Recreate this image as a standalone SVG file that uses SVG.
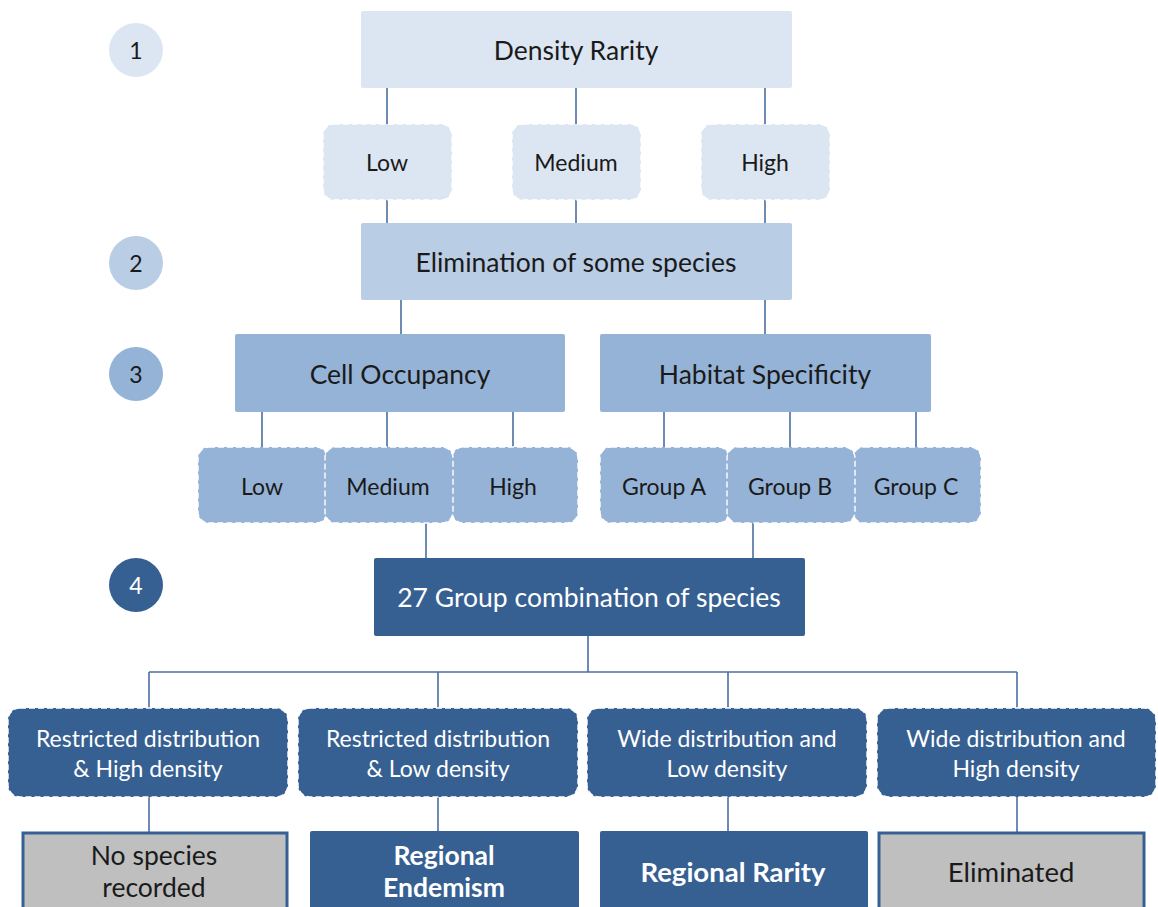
<svg xmlns="http://www.w3.org/2000/svg" width="1158" height="907" viewBox="0 0 1158 907">
<defs>
<style>
text{font-family:Lato,"Open Sans","Liberation Sans",sans-serif;text-anchor:middle;dominant-baseline:central}
.l1{fill:#dce6f2}.l2{fill:#b9cde5}.l3{fill:#95b3d7}.l4{fill:#376092}
.dash{stroke:#ffffff;stroke-width:1.4;stroke-dasharray:6 3}
.t{fill:#1a1a1a}.w{fill:#ffffff}
.big{font-size:26.5px}.mid{font-size:23px}.sm{font-size:23px}.num{font-size:23px}.fn{font-size:27.5px}
.b{font-weight:bold}
.conn line{stroke:#4a6fa0;stroke-width:1.6;fill:none}
.fin{stroke:#376092;stroke-width:3}
</style>
</defs>
<g class="conn">
<line x1="387" y1="88" x2="387" y2="124"/>
<line x1="576" y1="88" x2="576" y2="124"/>
<line x1="765" y1="88" x2="765" y2="124"/>
<line x1="387" y1="200" x2="387" y2="223"/>
<line x1="576" y1="200" x2="576" y2="223"/>
<line x1="765" y1="200" x2="765" y2="223"/>
<line x1="401" y1="300" x2="401" y2="334"/>
<line x1="765" y1="300" x2="765" y2="334"/>
<line x1="262" y1="412" x2="262" y2="447"/>
<line x1="387" y1="412" x2="387" y2="447"/>
<line x1="513" y1="412" x2="513" y2="447"/>
<line x1="664" y1="412" x2="664" y2="447"/>
<line x1="790" y1="412" x2="790" y2="447"/>
<line x1="916" y1="412" x2="916" y2="447"/>
<line x1="426" y1="523" x2="426" y2="558"/>
<line x1="753" y1="523" x2="753" y2="558"/>
<line x1="588" y1="636" x2="588" y2="672"/>
<line x1="149" y1="672" x2="1017" y2="672"/>
<line x1="149" y1="672" x2="149" y2="708"/>
<line x1="438" y1="672" x2="438" y2="708"/>
<line x1="728" y1="672" x2="728" y2="708"/>
<line x1="1017" y1="672" x2="1017" y2="708"/>
<line x1="149" y1="797" x2="149" y2="832"/>
<line x1="438" y1="797" x2="438" y2="832"/>
<line x1="728" y1="797" x2="728" y2="832"/>
<line x1="1017" y1="797" x2="1017" y2="832"/>
</g>
<g id="step1"><circle class="l1" cx="136" cy="50" r="27"/><text class="t num" x="136" y="50">1</text></g>
<g id="step2"><circle class="l2" cx="136" cy="263" r="27"/><text class="t num" x="136" y="263">2</text></g>
<g id="step3"><circle class="l3" cx="136" cy="374" r="27"/><text class="t num" x="136" y="374">3</text></g>
<g id="step4"><circle class="l4" cx="136" cy="585" r="27"/><text class="w num" x="136" y="585">4</text></g>

<g id="density-rarity"><rect class="l1" x="361" y="11" width="431" height="77" rx="2"/><text class="t big" x="576" y="50">Density Rarity</text></g>
<g id="dr-low"><rect class="l1 dash" x="323" y="124" width="129" height="76" rx="11"/><text class="t mid" x="387" y="162">Low</text></g>
<g id="dr-medium"><rect class="l1 dash" x="512" y="124" width="129" height="76" rx="11"/><text class="t mid" x="576" y="162">Medium</text></g>
<g id="dr-high"><rect class="l1 dash" x="701" y="124" width="129" height="76" rx="11"/><text class="t mid" x="765" y="162">High</text></g>

<g id="elimination"><rect class="l2" x="361" y="223" width="431" height="77" rx="2"/><text class="t big" x="576" y="262">Elimination of some species</text></g>

<g id="cell-occupancy"><rect class="l3" x="235" y="334" width="330" height="78" rx="2"/><text class="t big" x="400" y="374">Cell Occupancy</text></g>
<g id="habitat"><rect class="l3" x="600" y="334" width="331" height="78" rx="2"/><text class="t big" x="765" y="374">Habitat Specificity</text></g>

<g id="co-low"><rect class="l3 dash" x="198" y="447" width="129" height="76" rx="11"/><text class="t mid" x="262" y="486">Low</text></g>
<g id="co-high"><rect class="l3 dash" x="452" y="447" width="126" height="76" rx="11"/><text class="t mid" x="513" y="486">High</text></g>
<g id="co-medium"><rect class="l3 dash" x="325" y="447" width="128" height="76" rx="11"/><text class="t mid" x="388" y="486">Medium</text></g>
<g id="hs-a"><rect class="l3 dash" x="600" y="447" width="129" height="76" rx="11"/><text class="t mid" x="664" y="486">Group A</text></g>
<g id="hs-c"><rect class="l3 dash" x="853" y="447" width="128" height="76" rx="11"/><text class="t mid" x="916" y="486">Group C</text></g>
<g id="hs-b"><rect class="l3 dash" x="727" y="447" width="128" height="76" rx="11"/><text class="t mid" x="790" y="486">Group B</text></g>

<g id="combination"><rect class="l4" x="374" y="558" width="431" height="78" rx="2"/><text class="w big" x="589" y="597">27 Group combination of species</text></g>

<g id="rest-high"><rect class="l4 dash" x="8" y="708" width="280" height="89" rx="12"/><text class="w sm" x="148" y="738">Restricted distribution</text><text class="w sm" x="148" y="768">&amp; High density</text></g>
<g id="rest-low"><rect class="l4 dash" x="298" y="708" width="280" height="89" rx="12"/><text class="w sm" x="438" y="738">Restricted distribution</text><text class="w sm" x="438" y="768">&amp; Low density</text></g>
<g id="wide-low"><rect class="l4 dash" x="587" y="708" width="280" height="89" rx="12"/><text class="w sm" x="727" y="738">Wide distribution and</text><text class="w sm" x="727" y="768">Low density</text></g>
<g id="wide-high"><rect class="l4 dash" x="877" y="708" width="279" height="89" rx="12"/><text class="w sm" x="1016" y="738">Wide distribution and</text><text class="w sm" x="1016" y="768">High density</text></g>

<g id="no-species"><rect class="fin" fill="#bfbfbf" x="23" y="833" width="264" height="80"/><text class="t big" x="154" y="855">No species</text><text class="t big" x="154" y="887">recorded</text></g>
<g id="endemism"><rect class="l4" x="310" y="831" width="269" height="80" rx="2"/><text class="w big b" x="444" y="855">Regional</text><text class="w big b" x="444" y="887">Endemism</text></g>
<g id="rarity"><rect class="l4" x="600" y="831" width="268" height="80" rx="2"/><text class="w fn b" x="733" y="871">Regional Rarity</text></g>
<g id="eliminated"><rect class="fin" fill="#bfbfbf" x="879" y="833" width="265" height="80"/><text class="t fn" x="1011" y="871">Eliminated</text></g>
</svg>
